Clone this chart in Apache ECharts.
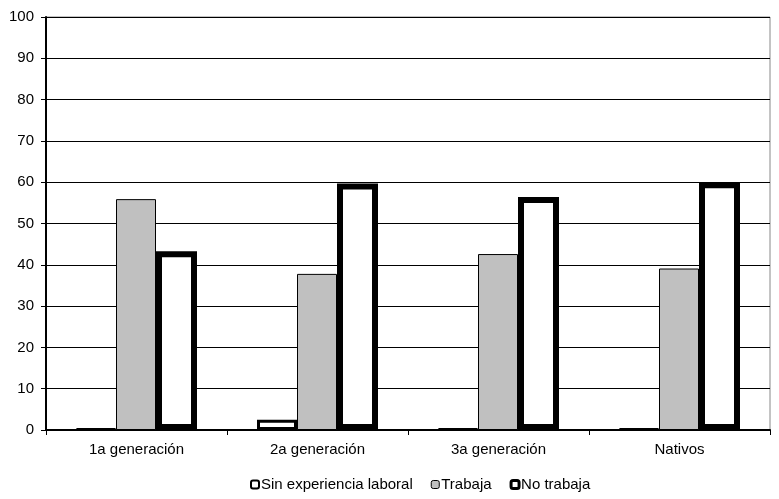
<!DOCTYPE html>
<html><head><meta charset="utf-8">
<script src="https://cdn.jsdelivr.net/npm/echarts@6/dist/echarts.min.js"></script>
<style>html,body{margin:0;padding:0;background:#fff}#c{width:779px;height:499px}</style>
</head><body><div id="c"></div>
<script>
const categories = ['1a generación', '2a generación', '3a generación', 'Nativos'];
const sinExperiencia = [0.2, 2.5, 0.2, 0.2];
const trabaja = [55.9, 37.8, 42.6, 39.1];
const noTrabaja = [43.3, 59.7, 56.4, 60.0];
const seriesNames = ['Sin experiencia laboral', 'Trabaja', 'No trabaja'];

const chart = echarts.init(document.getElementById('c'), null, {renderer: 'canvas'});
const font = 'Liberation Sans, Arial, sans-serif';
chart.setOption({
  animation: false,
  grid: {left: 46, right: 9, top: 17, bottom: 69, show: true, borderColor: '#888', borderWidth: 1},
  legend: {
    bottom: 2, left: 245, itemWidth: 8, itemHeight: 8, itemGap: 18,
    textStyle: {fontFamily: font, fontSize: 15, color: '#000', padding: [0,0,0,-3]},
    data: [
      {name: seriesNames[0], itemStyle: {color: '#fff', borderColor: '#000', borderWidth: 2}},
      {name: seriesNames[1], itemStyle: {color: '#c0c0c0', borderColor: '#000', borderWidth: 1}},
      {name: seriesNames[2], itemStyle: {color: '#fff', borderColor: '#000', borderWidth: 3}}
    ]
  },
  xAxis: {
    type: 'category', data: categories,
    axisLine: {lineStyle: {color: '#000', width: 2}},
    axisTick: {show: true, length: 5, lineStyle: {color: '#000'}},
    axisLabel: {fontFamily: font, fontSize: 15, color: '#000', margin: 12}
  },
  yAxis: {
    type: 'value', min: 0, max: 100, interval: 10,
    axisLine: {show: true, lineStyle: {color: '#000', width: 2}},
    axisTick: {show: true, length: 5, lineStyle: {color: '#000'}},
    axisLabel: {fontFamily: font, fontSize: 15, color: '#000', margin: 12},
    splitLine: {lineStyle: {color: '#000', width: 1}}
  },
  series: [
    {name: seriesNames[0], type: 'bar', data: sinExperiencia, barWidth: 40, barGap: '0%', barCategoryGap: '33%',
     itemStyle: {color: '#fff', borderColor: '#000', borderWidth: 3}},
    {name: seriesNames[1], type: 'bar', data: trabaja, barWidth: 40, barGap: '0%',
     itemStyle: {color: '#c0c0c0', borderColor: '#000', borderWidth: 1}},
    {name: seriesNames[2], type: 'bar', data: noTrabaja, barWidth: 41, barGap: '0%',
     itemStyle: {color: '#fff', borderColor: '#000', borderWidth: 6}}
  ]
});
</script></body></html>
